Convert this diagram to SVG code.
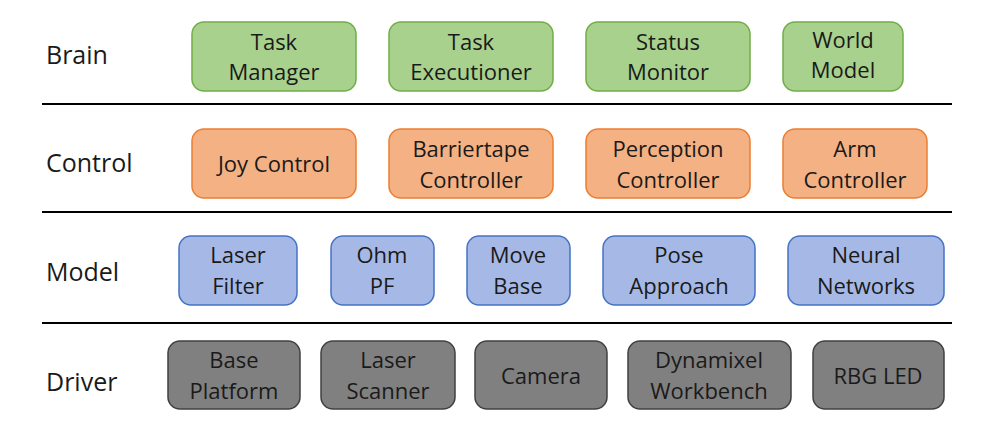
<svg xmlns="http://www.w3.org/2000/svg" width="988" height="436" viewBox="0 0 988 436">
<style>
text{font-family:"Open Sans","Liberation Sans",sans-serif;font-size:22px;fill:#1a1a1a;text-anchor:middle}
.lbl{text-anchor:start;font-size:25px}
rect{stroke-width:1.5}
.g{fill:#a9d18e;stroke:#70ad47}
.o{fill:#f4b183;stroke:#ed7d31}
.b{fill:#a6b9e6;stroke:#4472c4}
.d{fill:#808080;stroke:#404040}
line{stroke:#000;stroke-width:2}
</style>
<rect width="988" height="436" fill="#fff"/>
<g id="separators"><line x1="42" y1="104" x2="952" y2="104"/><line x1="42" y1="212" x2="952" y2="212"/><line x1="42" y1="323" x2="952" y2="323"/></g>
<g id="layer-labels"><text class="lbl" x="46" y="64">Brain</text><text class="lbl" x="46" y="172">Control</text><text class="lbl" x="46" y="281">Model</text><text class="lbl" x="46" y="391">Driver</text></g>
<g id="task-manager"><rect class="g" x="192" y="22" width="164" height="69" rx="12"/><text x="274" y="50">Task</text><text x="274" y="80">Manager</text></g>
<g id="task-executioner"><rect class="g" x="389" y="22" width="164" height="69" rx="12"/><text x="471" y="50">Task</text><text x="471" y="80">Executioner</text></g>
<g id="status-monitor"><rect class="g" x="586" y="22" width="164" height="69" rx="12"/><text x="668" y="50">Status</text><text x="668" y="80">Monitor</text></g>
<g id="world-model"><rect class="g" x="783" y="22" width="120" height="69" rx="12"/><text x="843" y="48">World</text><text x="843" y="78">Model</text></g>
<g id="joy-control"><rect class="o" x="192" y="129" width="164" height="69" rx="12"/><text x="274" y="172">Joy Control</text></g>
<g id="barriertape-controller"><rect class="o" x="389" y="129" width="164" height="69" rx="12"/><text x="471" y="157">Barriertape</text><text x="471" y="188">Controller</text></g>
<g id="perception-controller"><rect class="o" x="586" y="129" width="164" height="69" rx="12"/><text x="668" y="157">Perception</text><text x="668" y="188">Controller</text></g>
<g id="arm-controller"><rect class="o" x="783" y="129" width="144" height="69" rx="12"/><text x="855" y="157">Arm</text><text x="855" y="188">Controller</text></g>
<g id="laser-filter"><rect class="b" x="179" y="236" width="118" height="69" rx="12"/><text x="238" y="263">Laser</text><text x="238" y="294">Filter</text></g>
<g id="ohm-pf"><rect class="b" x="331" y="236" width="103" height="69" rx="12"/><text x="382" y="263">Ohm</text><text x="382" y="294">PF</text></g>
<g id="move-base"><rect class="b" x="467" y="236" width="103" height="69" rx="12"/><text x="518" y="263">Move</text><text x="518" y="294">Base</text></g>
<g id="pose-approach"><rect class="b" x="603" y="236" width="152" height="69" rx="12"/><text x="679" y="263">Pose</text><text x="679" y="294">Approach</text></g>
<g id="neural-networks"><rect class="b" x="788" y="236" width="156" height="69" rx="12"/><text x="866" y="263">Neural</text><text x="866" y="294">Networks</text></g>
<g id="base-platform"><rect class="d" x="168" y="341" width="132" height="68" rx="12"/><text x="234" y="368">Base</text><text x="234" y="399">Platform</text></g>
<g id="laser-scanner"><rect class="d" x="321" y="341" width="134" height="68" rx="12"/><text x="388" y="368">Laser</text><text x="388" y="399">Scanner</text></g>
<g id="camera"><rect class="d" x="475" y="341" width="132" height="68" rx="12"/><text x="541" y="384">Camera</text></g>
<g id="dynamixel-workbench"><rect class="d" x="628" y="341" width="163" height="68" rx="12"/><text x="709" y="368">Dynamixel</text><text x="709" y="399">Workbench</text></g>
<g id="rbg-led"><rect class="d" x="813" y="341" width="131" height="68" rx="12"/><text x="878" y="384">RBG LED</text></g>
<g id="connectors"/>
</svg>
